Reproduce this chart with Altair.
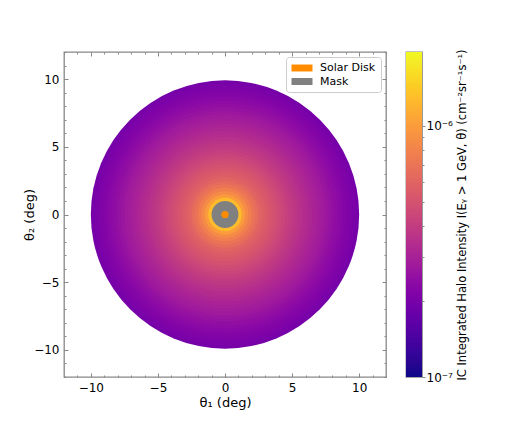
import math
import altair as alt
import pandas as pd

# Outer radius (deg) of each stacked disk and the halo intensity read for that ring
ring_outer = [1.25, 1.50, 1.75, 2.00, 2.25, 2.50, 2.75, 3.00, 3.25, 3.50, 3.75, 4.00,
              4.25, 4.50, 4.75, 5.00, 5.25, 5.50, 5.75, 6.00, 6.25, 6.50, 6.75, 7.00,
              7.25, 7.50, 7.75, 8.00, 8.25, 8.50, 8.75, 9.00, 9.25, 9.50, 9.75, 10.00]
ring_intensity = [1.27e-6, 1.0e-6, 8.6e-7, 7.7e-7, 7.0e-7, 6.5e-7, 6.0e-7, 5.68e-7,
                  5.43e-7, 5.19e-7, 4.96e-7, 4.74e-7, 4.53e-7, 4.34e-7, 4.15e-7, 3.96e-7,
                  3.82e-7, 3.68e-7, 3.54e-7, 3.41e-7, 3.29e-7, 3.18e-7, 3.06e-7, 2.96e-7,
                  2.86e-7, 2.77e-7, 2.68e-7, 2.57e-7, 2.48e-7, 2.40e-7, 2.32e-7, 2.24e-7,
                  2.17e-7, 2.10e-7, 2.04e-7, 1.98e-7]

overlay_labels = ["Mask", "Solar Disk"]
overlay_radius = [1.0, 0.27]
overlay_colors = ["#808080", "#ff8c00"]

major_ticks = [-10, -5, 0, 5, 10]
minor_ticks = list(range(-12, 13))
cbar_major = [1e-7, 1e-6]
cbar_minor = [2e-7, 3e-7, 4e-7, 5e-7, 6e-7, 7e-7, 8e-7, 9e-7]
cbar_domain = [1e-7, 1.97e-6]
cbar_title = "IC Integrated Halo Intensity I(Eᵧ > 1 GeV, θ)   (cm⁻²sr⁻¹s⁻¹)"

FONT = "DejaVu Sans"
GRAY = "#888888"
W, H = 322, 325

xs = alt.Scale(domain=[-12, 12], nice=False, zero=False)
ys = alt.Scale(domain=[-12, 12], nice=False, zero=False)
# point size is the area of the symbol's square: diameter = sqrt(size)
ss = alt.Scale(type="pow", exponent=2, domain=[0, 12], range=[0, W * W], zero=True, nice=False)
cs = alt.Scale(type="log", domain=cbar_domain, scheme="plasma", clamp=True)

heat_df = pd.DataFrame({"cx": 0.0, "cy": 0.0, "r": ring_outer, "I": ring_intensity})
heat_df = heat_df.sort_values("r", ascending=False)

heat = alt.Chart(heat_df).mark_point(filled=True, shape="circle", opacity=1, strokeWidth=0).encode(
    x=alt.X("cx:Q", scale=xs, title="θ₁ (deg)",
            axis=alt.Axis(values=major_ticks, ticks=False, domain=False, grid=False,
                          labelPadding=5, titlePadding=3)),
    y=alt.Y("cy:Q", scale=ys, title="θ₂ (deg)",
            axis=alt.Axis(values=major_ticks, ticks=False, domain=False, grid=False,
                          labelPadding=5, titlePadding=-3)),
    size=alt.Size("r:Q", scale=ss, legend=None),
    color=alt.Color("I:Q", scale=cs, legend=None),
    order=alt.Order("r:Q", sort="descending"),
)

ov_df = pd.DataFrame({"cx": 0.0, "cy": 0.0, "r": overlay_radius, "label": overlay_labels})

overlay = alt.Chart(ov_df).mark_point(filled=True, shape="circle", opacity=1, strokeWidth=0).encode(
    x=alt.X("cx:Q", scale=xs, axis=None),
    y=alt.Y("cy:Q", scale=ys, axis=None),
    size=alt.Size("r:Q", scale=ss, legend=None),
    fill=alt.Fill("label:N",
                  scale=alt.Scale(domain=["Solar Disk", "Mask"],
                                  range=[overlay_colors[1], overlay_colors[0]]),
                  legend=alt.Legend(
                      title=None, orient="top-right", offset=5,
                      symbolType="M-1.75,-0.58H1.75V0.58H-1.75Z", symbolSize=144,
                      symbolStrokeWidth=0, symbolOpacity=1,
                      labelFontSize=11, labelFont=FONT, labelColor="black",
                      fillColor="white", strokeColor="#cccccc", cornerRadius=3,
                      padding=5, rowPadding=2.5, symbolOffset=5, labelOffset=12)),
    order=alt.Order("r:Q", sort="descending"),
)

tick_df = pd.DataFrame({"cx": [0.0], "cy": [0.0]})


def tick_layer(xo, yo, vals, size):
    ax = dict(values=vals, labels=False, ticks=True, tickSize=size, offset=-size,
              domain=False, grid=False, title=None, tickColor=GRAY, tickWidth=1)
    return alt.Chart(tick_df).mark_point(opacity=0).encode(
        x=alt.X("cx:Q", scale=xs, axis=alt.Axis(orient=xo, **ax)),
        y=alt.Y("cy:Q", scale=ys, axis=alt.Axis(orient=yo, **ax)),
    )


main = alt.layer(
    heat, overlay,
    tick_layer("bottom", "left", major_ticks, 4),
    tick_layer("top", "right", major_ticks, 4),
    tick_layer("bottom", "left", minor_ticks, 2),
    tick_layer("top", "right", minor_ticks, 2),
).resolve_axis(x="independent", y="independent").properties(width=W, height=H)

# colour bar strip (legend sampling of the log colour scale); each band overlaps the next
n = 260
lo_log, hi_log = math.log10(cbar_domain[0]), math.log10(cbar_domain[1])
edges = [10 ** (lo_log + (hi_log - lo_log) * i / n) for i in range(n + 1)]
cb_df = pd.DataFrame({"lo": edges[:-1],
                      "hi": [edges[min(i + 2, n)] for i in range(n)],
                      "x0": 0.0, "x1": 1.0,
                      "mid": [math.sqrt(a * b) for a, b in zip(edges[:-1], edges[1:])]})
cby = alt.Scale(type="log", domain=cbar_domain, nice=False)
cbx = alt.Scale(domain=[0, 1], nice=False, zero=False)

cbar_strip = alt.Chart(cb_df).mark_rect().encode(
    x=alt.X("x0:Q", scale=cbx, axis=None),
    x2="x1:Q",
    y=alt.Y("lo:Q", scale=cby, title=cbar_title,
            axis=alt.Axis(orient="right", values=cbar_major, tickSize=3, tickColor=GRAY,
                          labelExpr="datum.value < 5e-7 ? '10⁻⁷' : '10⁻⁶'",
                          labelFontSize=12, labelPadding=1, labelBaseline="middle",
                          domain=False, grid=False, titleAngle=270, titleBaseline="top",
                          titleLimit=1000, titleFontSize=11.5, titlePadding=4,
                          labelFlush=False)),
    y2="hi:Q",
    color=alt.Color("mid:Q", scale=cs, legend=None),
)
cbar_minor_df = pd.DataFrame({"v": [cbar_minor[0]], "x0": [0.5]})
cbar_ticks = alt.Chart(cbar_minor_df).mark_point(opacity=0).encode(
    x=alt.X("x0:Q", scale=cbx, axis=None),
    y=alt.Y("v:Q", scale=cby,
            axis=alt.Axis(orient="right", values=cbar_minor, tickSize=2, tickColor=GRAY,
                          labels=False, domain=False, grid=False, title=None)),
)
cbar = alt.layer(cbar_strip, cbar_ticks).resolve_axis(y="independent").properties(
    width=16, height=H)

chart = alt.hconcat(main, cbar, spacing=17).resolve_scale(
    fill="independent"
).properties(
    padding={"top": 36, "left": 15, "right": 5, "bottom": 5}
).configure_view(
    stroke=GRAY, strokeWidth=1.3
).configure_axis(
    labelFont=FONT, titleFont=FONT, labelFontSize=12, titleFontSize=13,
    labelColor="black", titleColor="black", titleFontWeight="normal"
)

chart.save("out.html", embed_options={"renderer": "svg", "actions": False})
